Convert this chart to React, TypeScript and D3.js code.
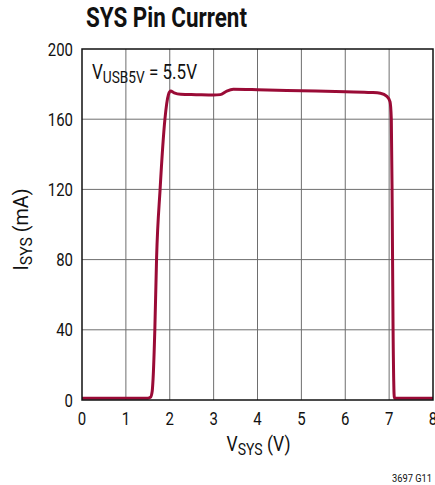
import * as d3 from "d3";
import React from "react";

// V_SYS (V) and I_SYS (mA)
const vsys = [0, 1.5, 1.56, 1.6, 1.62, 1.66, 1.7, 1.78, 1.89, 1.97, 2.02, 2.1, 2.25, 2.6, 3.0, 3.15, 3.3, 3.45, 4.0, 5.0, 6.0, 6.6, 6.8, 6.95, 7.02, 7.05, 7.07, 7.09, 7.12, 7.2, 8];
const isys = [1, 1, 1.5, 5, 12, 40, 81, 120, 160, 174, 176, 175, 174.2, 174, 173.8, 174, 176, 177, 176.8, 176.2, 175.6, 175.2, 174.8, 173, 170, 160, 110, 40, 1, 1, 1];

const xTicks = [0, 1, 2, 3, 4, 5, 6, 7, 8];
const yTicks = [0, 40, 80, 120, 160, 200];

const FONT = "Roboto, 'Liberation Sans', sans-serif";
const LINE = "#9a0b36";
// condensed look: squeeze each digit to about 8.4px
const digitW = 8.4;

export default function App(): React.ReactElement {
  const width = 435;
  const height = 485;
  const margin = { left: 82, right: 2, top: 49, bottom: 85 };
  const innerW = width - margin.left - margin.right;
  const innerH = height - margin.top - margin.bottom;

  const x = d3.scaleLinear().domain([0, 8]).range([0, innerW]);
  const y = d3.scaleLinear().domain([0, 200]).range([innerH, 0]);

  const points = vsys.map((v, i) => ({ v, i: isys[i] }));
  const path =
    d3
      .line<{ v: number; i: number }>()
      .x((d) => x(d.v))
      .y((d) => y(d.i))
      .curve(d3.curveMonotoneX)(points) ?? "";

  return (
    <svg
      height={height}
      style={{ position: "absolute", left: 0, top: 0, background: "#fff" }}
      width={width}
    >
      <text
        fill="#111"
        fontFamily={FONT}
        fontSize={28}
        fontWeight="bold"
        lengthAdjust="spacingAndGlyphs"
        textLength={161}
        x={86}
        y={27}
      >
        SYS Pin Current
      </text>

      <g transform={`translate(${margin.left},${margin.top})`}>
        {/* grid */}
        {xTicks.slice(1, -1).map((t) => (
          <line key={`gx-${t}`} stroke="#6e6e6e" strokeWidth={1} x1={x(t)} x2={x(t)} y1={0} y2={innerH} />
        ))}
        {yTicks.slice(1, -1).map((t) => (
          <line key={`gy-${t}`} stroke="#6e6e6e" strokeWidth={1} x1={0} x2={innerW} y1={y(t)} y2={y(t)} />
        ))}

        {/* curve */}
        <path d={path} fill="none" stroke={LINE} strokeLinejoin="round" strokeWidth={3} />

        {/* frame */}
        <rect fill="none" height={innerH} stroke="#111" strokeWidth={1.5} width={innerW} x={0} y={0} />

        {/* tick labels */}
        {xTicks.map((t) => (
          <text
            fill="#111"
            fontFamily={FONT}
            fontSize={18}
            key={`xt-${t}`}
            lengthAdjust="spacingAndGlyphs"
            textAnchor="middle"
            textLength={String(t).length * digitW}
            x={x(t)}
            y={innerH + 25}
          >
            {t}
          </text>
        ))}
        {yTicks.map((t) => (
          <text
            fill="#111"
            fontFamily={FONT}
            fontSize={18}
            key={`yt-${t}`}
            lengthAdjust="spacingAndGlyphs"
            textAnchor="end"
            textLength={String(t).length * digitW}
            x={-9}
            y={y(t) + 6.5}
          >
            {t}
          </text>
        ))}

        {/* annotation */}
        <text
          fill="#111"
          fontFamily={FONT}
          fontSize={20}
          lengthAdjust="spacingAndGlyphs"
          textLength={105}
          x={10}
          y={30}
        >
          V<tspan dy={4} fontSize={16}>USB5V</tspan>
          <tspan dy={-4}> = 5.5V</tspan>
        </text>

        {/* axis titles */}
        <text
          fill="#111"
          fontFamily={FONT}
          fontSize={20}
          lengthAdjust="spacingAndGlyphs"
          textAnchor="middle"
          textLength={64}
          x={innerW / 2 + 1}
          y={innerH + 51}
        >
          V<tspan dy={4} fontSize={16}>SYS</tspan>
          <tspan dy={-4}> (V)</tspan>
        </text>
        <text
          fill="#111"
          fontFamily={FONT}
          fontSize={20}
          lengthAdjust="spacingAndGlyphs"
          textAnchor="middle"
          textLength={82}
          transform={`translate(${-54},${innerH / 2 + 5}) rotate(-90)`}
        >
          I<tspan dy={4} fontSize={16}>SYS</tspan>
          <tspan dy={-4}> (mA)</tspan>
        </text>
      </g>

      <text fill="#111" fontFamily={FONT} fontSize={11} lengthAdjust="spacingAndGlyphs" textAnchor="end" textLength={40} x={432} y={482}>
        3697 G11
      </text>
    </svg>
  );
}
